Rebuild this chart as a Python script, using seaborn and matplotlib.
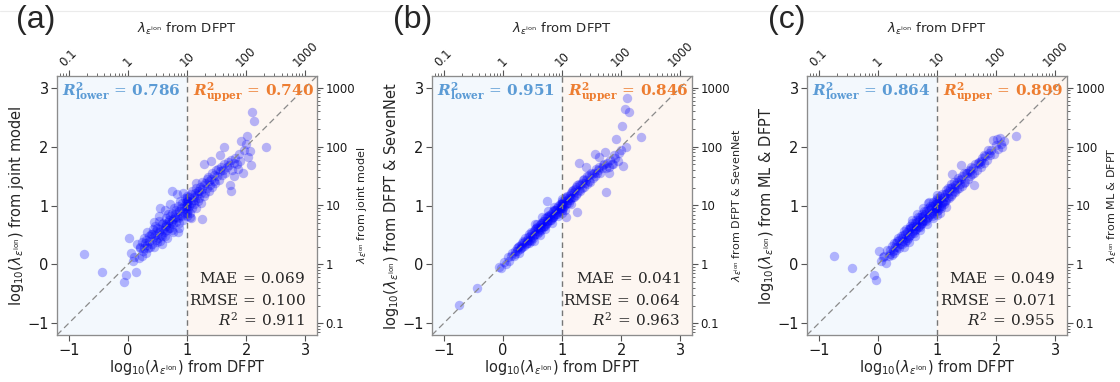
import numpy as np
import pandas as pd
import matplotlib
matplotlib.use("Agg")
import matplotlib.pyplot as plt
from matplotlib.lines import Line2D
import seaborn as sns

# ---------------- data (log10 values) ----------------
dfpt_log = [
    -0.75, -0.44, -0.07, -0.03, 0.02, 0.05, 0.08, 0.10, 0.13, 0.16, 0.18, 0.20,
    0.21, 0.23, 0.24, 0.26, 0.27, 0.28, 0.29,
    0.30, 0.31, 0.32, 0.33, 0.34, 0.35, 0.36, 0.37, 0.39,
    0.40, 0.41, 0.42, 0.43, 0.44, 0.45, 0.46, 0.47, 0.48, 0.49, 0.44,
    0.50, 0.51, 0.52, 0.53, 0.54, 0.55, 0.56, 0.57, 0.58, 0.59, 0.53, 0.57,
    0.60, 0.61, 0.62, 0.63, 0.64, 0.65, 0.66, 0.67, 0.68, 0.69, 0.62, 0.66, 0.64,
    0.70, 0.71, 0.72, 0.73, 0.74, 0.75, 0.76, 0.77, 0.78, 0.79, 0.72, 0.76, 0.74,
    0.80, 0.81, 0.82, 0.83, 0.84, 0.85, 0.86, 0.87, 0.88, 0.89, 0.83, 0.87,
    0.90, 0.91, 0.92, 0.93, 0.94, 0.95, 0.96, 0.97, 0.98, 0.99, 0.94,
    1.00, 1.00, 1.00, 1.00, 1.00, 1.00, 1.00, 1.00,
    1.01, 1.02, 1.03, 1.04, 1.05, 1.06, 1.07, 1.08, 1.09, 1.10, 1.05,
    1.11, 1.12, 1.13, 1.14, 1.15, 1.16, 1.17, 1.18, 1.19, 1.15,
    1.20, 1.21, 1.22, 1.23, 1.24, 1.25, 1.26, 1.28, 1.29,
    1.30, 1.31, 1.33, 1.34, 1.35, 1.37, 1.38, 1.39,
    1.40, 1.42, 1.43, 1.45, 1.46, 1.48, 1.49,
    1.50, 1.52, 1.54, 1.56, 1.57, 1.59,
    1.61, 1.63, 1.65, 1.67, 1.69,
    1.71, 1.74, 1.76, 1.79,
    1.82, 1.85, 1.88,
    1.92, 1.96, 2.02, 2.04, 2.07, 2.10, 2.13, 2.33, 1.56, 1.62, 1.73, 1.75, 1.87,
    1.90, 1.95, 2.00, 2.08, 1.25, 1.28, 1.06, 0.75, 0.55, 0.85, 1.40, 1.80,
]

pred_joint = [
    0.18, -0.13, -0.30, -0.18, 0.44, 0.20, 0.05, 0.13, -0.13, 0.35, 0.10, 0.28,
    0.30, 0.15, 0.38, 0.22, 0.45, 0.27, 0.36,
    0.20, 0.42, 0.33, 0.55, 0.28, 0.40, 0.48, 0.30, 0.52,
    0.52, 0.35, 0.60, 0.44, 0.30, 0.50, 0.66, 0.41, 0.57, 0.38, 0.72,
    0.62, 0.45, 0.55, 0.74, 0.40, 0.60, 0.50, 0.68, 0.35, 0.58, 0.82, 0.48,
    0.70, 0.55, 0.63, 0.48, 0.78, 0.66, 0.58, 0.86, 0.72, 0.62, 0.92, 0.45, 0.68,
    0.75, 0.62, 0.82, 0.70, 0.58, 0.88, 0.77, 0.68, 0.95, 0.80, 1.02, 0.55, 0.73,
    0.86, 0.72, 0.92, 0.80, 1.00, 0.78, 0.90, 0.70, 1.08, 0.84, 1.20, 0.62,
    0.95, 0.82, 1.05, 0.90, 0.76, 1.00, 1.12, 0.88, 0.97, 1.06, 1.22,
    0.82, 0.88, 0.94, 0.99, 1.03, 1.08, 1.12, 1.16,
    1.08, 0.92, 1.15, 1.00, 0.88, 1.20, 1.05, 0.96, 1.25, 1.10, 0.80,
    1.15, 1.02, 1.22, 1.10, 0.95, 1.30, 1.18, 1.08, 1.25, 1.38,
    1.25, 1.12, 1.32, 1.05, 1.22, 1.40, 1.28, 1.16, 1.35,
    1.38, 1.22, 1.45, 1.30, 1.48, 1.25, 1.42, 1.34,
    1.45, 1.32, 1.55, 1.42, 1.52, 1.38, 1.60,
    1.50, 1.62, 1.44, 1.58, 1.66, 1.52,
    1.60, 1.70, 1.55, 1.65, 1.74,
    1.68, 1.78, 1.60, 1.72,
    1.80, 1.70, 1.88,
    2.10, 1.95, 2.18, 1.82, 1.93, 2.58, 2.44, 2.00, 1.85, 1.99, 1.34, 1.25, 1.62,
    1.75, 1.56, 2.05, 1.68, 0.77, 1.70, 0.78, 1.25, 0.95, 0.55, 1.75, 1.50,
]

pred_sevennet = [
    -0.69, -0.41, -0.04, -0.07, 0.04, 0.00, 0.12, 0.06, 0.15, 0.20, 0.14, 0.22,
    0.18, 0.27, 0.22, 0.30, 0.20, 0.32, 0.26,
    0.33, 0.27, 0.36, 0.29, 0.40, 0.31, 0.38, 0.44, 0.35,
    0.42, 0.36, 0.47, 0.40, 0.52, 0.42, 0.49, 0.40, 0.55, 0.47, 0.36,
    0.53, 0.45, 0.57, 0.50, 0.60, 0.51, 0.62, 0.52, 0.64, 0.56, 0.40, 0.68,
    0.62, 0.55, 0.67, 0.60, 0.70, 0.58, 0.71, 0.63, 0.74, 0.66, 0.50, 0.80, 0.64,
    0.73, 0.65, 0.78, 0.69, 0.80, 0.70, 0.82, 0.73, 0.84, 0.76, 0.60, 0.90, 0.74,
    0.82, 0.76, 0.86, 0.79, 0.90, 0.81, 0.92, 0.84, 0.93, 0.86, 0.70, 0.98,
    0.92, 0.86, 0.96, 0.89, 1.00, 0.91, 1.02, 0.94, 1.03, 0.97, 0.82,
    0.88, 0.92, 0.96, 0.99, 1.02, 1.05, 1.08, 1.11,
    1.03, 0.96, 1.08, 1.00, 1.12, 1.02, 1.14, 1.05, 1.16, 1.09, 0.92,
    1.13, 1.05, 1.18, 1.09, 1.22, 1.12, 1.24, 1.14, 1.26, 1.02,
    1.23, 1.15, 1.28, 1.18, 1.32, 1.22, 1.34, 1.26, 1.36,
    1.34, 1.24, 1.38, 1.30, 1.44, 1.32, 1.45, 1.38,
    1.44, 1.36, 1.50, 1.42, 1.52, 1.40, 1.55,
    1.54, 1.46, 1.56, 1.50, 1.62, 1.55,
    1.60, 1.66, 1.56, 1.63, 1.68,
    1.70, 1.64, 1.73, 1.66,
    1.78, 1.70, 1.85,
    2.13, 1.89, 2.35, 1.67, 2.64, 2.83, 2.58, 2.17, 1.87, 1.82, 1.91, 1.23, 1.70,
    1.80, 1.75, 1.95, 1.99, 0.89, 1.73, 0.80, 1.08, 0.68, 0.80, 1.65, 1.55,
]

pred_ml = [
    0.15, -0.06, -0.18, -0.26, 0.22, 0.05, 0.12, 0.15, 0.02, 0.25, 0.14, 0.18,
    0.25, 0.16, 0.32, 0.22, 0.36, 0.20, 0.30,
    0.36, 0.24, 0.40, 0.30, 0.45, 0.28, 0.42, 0.34, 0.48,
    0.44, 0.34, 0.50, 0.40, 0.56, 0.38, 0.52, 0.45, 0.60, 0.42, 0.30,
    0.55, 0.44, 0.60, 0.48, 0.66, 0.50, 0.62, 0.54, 0.70, 0.56, 0.38, 0.76,
    0.65, 0.54, 0.70, 0.58, 0.76, 0.60, 0.72, 0.64, 0.80, 0.66, 0.48, 0.86, 0.66,
    0.75, 0.63, 0.80, 0.68, 0.86, 0.70, 0.82, 0.74, 0.90, 0.76, 0.58, 0.96, 0.74,
    0.85, 0.73, 0.90, 0.78, 0.96, 0.80, 0.92, 0.84, 1.00, 0.86, 0.68, 1.06,
    0.95, 0.83, 1.00, 0.88, 1.06, 0.90, 1.02, 0.94, 1.10, 0.96, 0.78,
    0.84, 0.90, 0.95, 1.00, 1.04, 1.08, 1.13, 1.18,
    1.05, 0.93, 1.10, 0.98, 1.16, 1.00, 1.12, 1.04, 1.20, 1.06, 0.88,
    1.15, 1.03, 1.20, 1.08, 1.26, 1.10, 1.22, 1.14, 1.30, 0.98,
    1.25, 1.13, 1.30, 1.16, 1.36, 1.20, 1.32, 1.24, 1.40,
    1.35, 1.23, 1.40, 1.28, 1.46, 1.30, 1.44, 1.36,
    1.45, 1.33, 1.50, 1.38, 1.55, 1.40, 1.56,
    1.55, 1.45, 1.60, 1.50, 1.65, 1.54,
    1.64, 1.56, 1.70, 1.60, 1.72,
    1.74, 1.66, 1.80, 1.72,
    1.84, 1.78, 1.90,
    1.94, 1.88, 2.13, 1.96, 2.15, 1.99, 2.10, 2.18, 1.58, 1.34, 1.70, 1.76, 1.95,
    1.85, 2.12, 2.02, 2.05, 1.54, 1.30, 0.95, 0.80, 0.62, 1.05, 1.68, 1.85,
]

panel_tags = ["(a)", "(b)", "(c)"]
model_names = ["joint model", "DFPT & SevenNet", "ML & DFPT"]
r2_lower = ["0.786", "0.951", "0.864"]
r2_upper = ["0.740", "0.846", "0.899"]
mae_vals = ["0.069", "0.041", "0.049"]
rmse_vals = ["0.100", "0.064", "0.071"]
r2_vals = ["0.911", "0.963", "0.955"]
lin_ticks = [-1, 0, 1, 2, 3]
log_ticks = [0.1, 1, 10, 100, 1000]
log_tick_labels = ["0.1", "1", "10", "100", "1000"]

assert len(dfpt_log) == len(pred_joint) == len(pred_sevennet) == len(pred_ml)

# ---------------- styling ----------------
sns.set_style("ticks")
plt.rcParams["font.family"] = ["DejaVu Sans"]
plt.rcParams["axes.edgecolor"] = "#8c8c8c"
plt.rcParams["xtick.color"] = "#555555"
plt.rcParams["ytick.color"] = "#555555"
plt.rcParams["xtick.labelcolor"] = "#1a1a1a"
plt.rcParams["ytick.labelcolor"] = "#1a1a1a"

LO, HI = -1.2, 3.2
C_LOWER = "#5b9bd5"
C_UPPER = "#ed7d31"
lam = r"\lambda_{\varepsilon^{\mathrm{ion}}}"
log_lam = r"$\mathrm{log}_{10}(" + lam + r")$"

fig = plt.figure(figsize=(11.2, 3.82), dpi=100)
fig.add_artist(Line2D([0, 1], [1 - 11 / 382, 1 - 11 / 382], color="#ebebeb", lw=0.8))

preds = [pred_joint, pred_sevennet, pred_ml]
lefts = [57, 432, 807]
tag_x = [16, 393, 768]

for i in range(3):
    df = pd.DataFrame({"dfpt": dfpt_log, "pred": preds[i]})
    ax = fig.add_axes([lefts[i] / 1120, 47 / 382, 260 / 1120, 259 / 382])
    ax.axvspan(LO, 1, color="#f3f8fd", lw=0, zorder=0)
    ax.axvspan(1, HI, color="#fdf6f1", lw=0, zorder=0)
    sns.scatterplot(data=df, x="dfpt", y="pred", ax=ax, color="#0000ff",
                    alpha=0.28, s=46, linewidth=0, zorder=3, legend=False)
    ax.plot([LO, HI], [LO, HI], ls=(0, (5, 3)), color="#8a8a8a", lw=0.9, zorder=4)
    ax.axvline(1, ls=(0, (4, 3)), color="#777777", lw=1.0, zorder=4)
    ax.set_xlim(LO, HI)
    ax.set_ylim(LO, HI)
    ax.set_xticks(lin_ticks)
    ax.set_yticks(lin_ticks)
    ax.tick_params(labelsize=10.5, length=4, width=0.8, pad=2)
    ax.set_xlabel(log_lam + " from DFPT", fontsize=10.5, labelpad=0)
    ax.set_ylabel(log_lam + " from " + model_names[i], fontsize=10.5, labelpad=1)

    # statistics
    ax.text(0.02, 0.925, r"$\mathbfit{R}^{\mathbf{2}}_{\mathbf{lower}}\,=\,\mathbf{" + r2_lower[i] + r"}$",
            transform=ax.transAxes, color=C_LOWER, fontsize=11, ha="left", va="baseline",
            math_fontfamily="dejavuserif", zorder=6)
    ax.text(0.523, 0.925, r"$\mathbfit{R}^{\mathbf{2}}_{\mathbf{upper}}\,=\,\mathbf{" + r2_upper[i] + r"}$",
            transform=ax.transAxes, color=C_UPPER, fontsize=11, ha="left", va="baseline",
            math_fontfamily="dejavuserif", zorder=6)
    ax.text(0.955, 0.20, r"$\mathrm{MAE}\,=\," + mae_vals[i] + r"$", transform=ax.transAxes,
            fontsize=11, ha="right", va="baseline", math_fontfamily="dejavuserif", zorder=6)
    ax.text(0.955, 0.116, r"$\mathrm{RMSE}\,=\," + rmse_vals[i] + r"$", transform=ax.transAxes,
            fontsize=11, ha="right", va="baseline", math_fontfamily="dejavuserif", zorder=6)
    ax.text(0.955, 0.036, r"$R^2\,=\," + r2_vals[i] + r"$", transform=ax.transAxes,
            fontsize=11, ha="right", va="baseline", math_fontfamily="dejavuserif", zorder=6)

    # top log axis
    axt = ax.twiny()
    axt.set_xscale("log")
    axt.set_xlim(10 ** LO, 10 ** HI)
    axt.set_xticks(log_ticks)
    axt.set_xticklabels(log_tick_labels, rotation=45, fontsize=8.5)
    axt.tick_params(axis="x", which="major", length=4, width=0.8, pad=1)
    axt.tick_params(axis="x", which="minor", length=2, width=0.6)
    axt.set_xlabel(r"$" + lam + r"$ from DFPT", fontsize=9.5, labelpad=4)

    # right log axis
    axr = ax.twinx()
    axr.set_yscale("log")
    axr.set_ylim(10 ** LO, 10 ** HI)
    axr.set_yticks(log_ticks)
    axr.set_yticklabels(log_tick_labels, fontsize=8.5)
    axr.tick_params(axis="y", which="major", length=4, width=0.8, pad=2)
    axr.tick_params(axis="y", which="minor", length=2, width=0.6)
    axr.set_ylabel(r"$" + lam + r"$ from " + model_names[i], fontsize=8, labelpad=0)

    fig.text(tag_x[i] / 1120, 1 - 5 / 382, panel_tags[i], fontsize=23, ha="left", va="top",
             family=["Liberation Sans", "DejaVu Sans"])

fig.savefig("out.png", dpi=100)
